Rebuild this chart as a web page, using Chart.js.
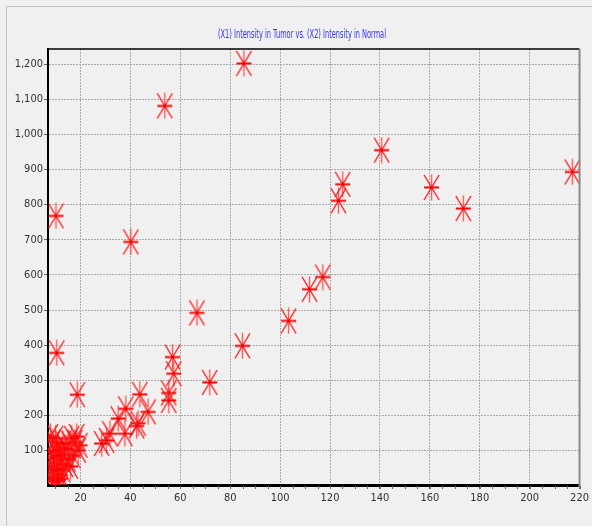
<!DOCTYPE html>
<html>
<head>
<meta charset="utf-8">
<script src="https://cdn.jsdelivr.net/npm/chart.js@4"></script>
<style>
  html, body { margin: 0; padding: 0; background: #f0f0f0; }
  #wrap { width: 592px; height: 526px; }
</style>
</head>
<body>
<div id="wrap"><canvas id="myChart" width="592" height="526"></canvas></div>
<script>
// data
var titleText = '(X1) Intensity in Tumor vs. (X2) Intensity in Normal';
var xTicks = [20, 40, 60, 80, 100, 120, 140, 160, 180, 200, 220];
var yTicks = [100, 200, 300, 400, 500, 600, 700, 800, 900, 1000, 1100, 1200];
// X1 = tumor intensity
var tumor = [85.5, 53.8, 140.7, 217.1, 125.1, 160.7, 123.4, 173.4, 10.2, 40.2,
    117.1, 111.8, 66.7, 103.4, 84.9, 10.5, 56.9, 57.4, 71.8, 55.4,
    18.7, 43.8, 55.4, 38.2, 47.1, 35.1, 43.1, 42.5, 37.8, 31.8,
    30.5, 28.5, 17.8, 19.8, 15.4, 18.5, 19.1, 16.5, 17,
    8, 9, 10, 11, 12, 8, 9, 10, 11, 12, 13, 9, 10, 11, 12, 8, 13, 14, 15, 16, 14, 10, 11, 12, 9, 8, 13, 10];
// X2 = normal intensity
var normal = [1202, 1081, 955, 893, 858, 849, 811, 789, 768, 694,
    594, 559, 492, 469, 398, 378, 366, 319, 294, 264,
    259, 260, 243, 219, 210, 191, 178, 170, 148, 148,
    129, 120, 124, 115, 120, 140, 101, 135, 85,
    140, 125, 135, 110, 100, 95, 80, 65, 50, 75, 45, 35, 25, 15, 30, 55, 90, 60, 75, 55, 105, 100, 85, 20, 12, 20, 120, 45];

var points = tumor.map(function (x, i) { return { x: x, y: normal[i] }; });

var narrow = "'Liberation Sans Narrow', 'DejaVu Sans Condensed', sans-serif";

// asterisk marker
var mark = document.createElement('canvas');
mark.width = 17;
mark.height = 27;
var m = mark.getContext('2d');
m.lineWidth = 1.3;
m.strokeStyle = 'rgba(255, 30, 30, 0.75)';
m.beginPath(); m.moveTo(8.5, 0.5); m.lineTo(8.5, 26.5); m.stroke();
m.strokeStyle = '#ff1010';
m.beginPath(); m.moveTo(1, 1); m.lineTo(16, 26); m.moveTo(16, 1); m.lineTo(1, 26); m.stroke();
m.lineWidth = 2;
m.strokeStyle = '#ff0000';
m.beginPath(); m.moveTo(1, 13.5); m.lineTo(16, 13.5); m.stroke();
m.fillStyle = '#e00000';
m.fillRect(7.5, 12.5, 2, 2);

var framePlugin = {
    id: 'frame',
    beforeDraw: function (chart) {
        var c = chart.ctx;
        c.save();
        c.fillStyle = '#f0f0f0';
        c.fillRect(0, 0, chart.width, chart.height);
        c.strokeStyle = '#c4c4c4';
        c.lineWidth = 1;
        c.beginPath();
        c.moveTo(6.5, chart.height); c.lineTo(6.5, 6.5); c.lineTo(chart.width, 6.5);
        c.stroke();
        // title
        c.fillStyle = '#3434f4';
        c.font = '13px ' + narrow;
        c.textAlign = 'center';
        c.textBaseline = 'middle';
        c.fillText(titleText, 302, 35, 168);
        c.restore();
    },
    afterDraw: function (chart) {
        var c = chart.ctx, a = chart.chartArea, xs = chart.scales.x;
        c.save();
        c.strokeStyle = '#000';
        c.lineWidth = 1.5;
        c.beginPath(); c.moveTo(a.left, a.top); c.lineTo(a.right, a.top); c.stroke();
        c.strokeStyle = '#8a8a8a';
        c.lineWidth = 2;
        c.beginPath(); c.moveTo(a.right, a.top); c.lineTo(a.right, a.bottom + 2); c.stroke();
        // minor ticks on x
        c.strokeStyle = '#666';
        c.lineWidth = 1;
        for (var v = 10; v <= 220; v += 5) {
            var px = Math.round(xs.getPixelForValue(v)) + 0.5;
            c.beginPath(); c.moveTo(px, a.bottom + 1); c.lineTo(px, a.bottom + 4); c.stroke();
        }
        c.restore();
    }
};

var ctx = document.getElementById('myChart').getContext('2d');
var myChart = new Chart(ctx, {
    type: 'scatter',
    data: {
        datasets: [{
            label: 'Intensity',
            data: points,
            pointStyle: mark,
            pointRadius: 8,
            pointHoverRadius: 8
        }]
    },
    options: {
        responsive: false,
        animation: false,
        events: [],
        layout: { padding: { top: 49, right: 12, left: 0, bottom: 0 } },
        plugins: {
            legend: { display: false },
            title: { display: false },
            tooltip: { enabled: false }
        },
        scales: {
            x: {
                type: 'linear',
                min: 7,
                max: 220,
                afterBuildTicks: function (s) { s.ticks = xTicks.map(function (v) { return { value: v }; }); },
                afterFit: function (s) { s.height = 41; },
                ticks: { color: '#333', font: { family: narrow, size: 11 }, padding: 3, maxRotation: 0, autoSkip: false },
                grid: { color: '#ababab', lineWidth: 1, tickLength: 4, tickColor: '#666' },
                border: { color: '#000', width: 3, dash: [2, 1] }
            },
            y: {
                type: 'linear',
                min: 2,
                max: 1243,
                afterBuildTicks: function (s) { s.ticks = yTicks.map(function (v) { return { value: v }; }); },
                afterFit: function (s) { s.width = 48; },
                ticks: {
                    color: '#333', font: { family: narrow, size: 11 }, padding: 1, autoSkip: false,
                    callback: function (v) { return v.toLocaleString('en-US'); }
                },
                grid: { color: '#ababab', lineWidth: 1, tickLength: 4, tickColor: '#666' },
                border: { color: '#000', width: 2, dash: [2, 1] }
            }
        }
    },
    plugins: [framePlugin]
});
</script>
</body>
</html>
